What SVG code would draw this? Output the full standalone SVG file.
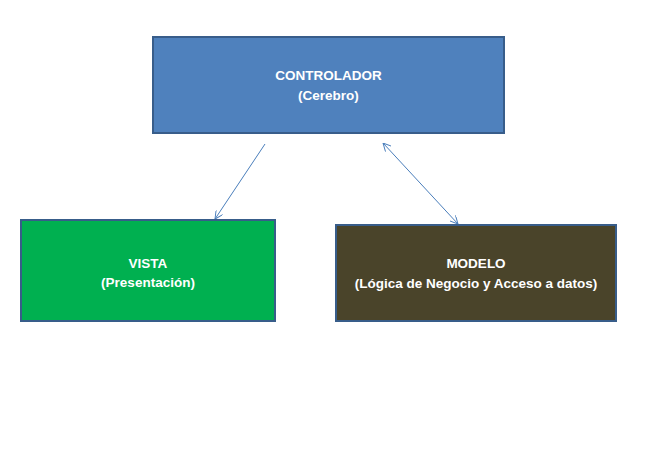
<svg xmlns="http://www.w3.org/2000/svg" width="652" height="451" viewBox="0 0 652 451">
<style>
.box{stroke:#385D8A;stroke-width:2}
.t{font-family:"Liberation Sans",Arial,sans-serif;font-weight:bold;font-size:13.5px;fill:#FFFFFF;text-anchor:middle}
.c{stroke:#4A7EBB;stroke-width:1;fill:none}
</style>
<defs>
<marker id="ah" viewBox="0 0 10 10" refX="10" refY="5" markerWidth="8" markerHeight="8" orient="auto-start-reverse" markerUnits="userSpaceOnUse">
<path d="M0,0 L10,5 L0,10" fill="none" stroke="#4A7EBB" stroke-width="1.2"/>
</marker>
</defs>
<rect width="652" height="451" fill="#FFFFFF"/>
<g id="controlador">
<rect class="box" x="153" y="37" width="351" height="96" fill="#4F81BD"/>
<text class="t" x="328.5" y="80">CONTROLADOR</text>
<text class="t" x="328.5" y="100">(Cerebro)</text>
</g>
<g id="vista">
<rect class="box" x="21" y="220" width="254" height="101" fill="#00B050"/>
<text class="t" x="148" y="268">VISTA</text>
<text class="t" x="148" y="287">(Presentación)</text>
</g>
<g id="modelo">
<rect class="box" x="336" y="225" width="280" height="96" fill="#4A442A"/>
<text class="t" x="476" y="268">MODELO</text>
<text class="t" x="476" y="288">(Lógica de Negocio y Acceso a datos)</text>
</g>
<g id="connectors">
<line class="c" x1="265" y1="144" x2="215" y2="219" marker-end="url(#ah)"/>
<line class="c" x1="383" y1="143" x2="458" y2="224" marker-start="url(#ah)" marker-end="url(#ah)"/>
</g>
</svg>
